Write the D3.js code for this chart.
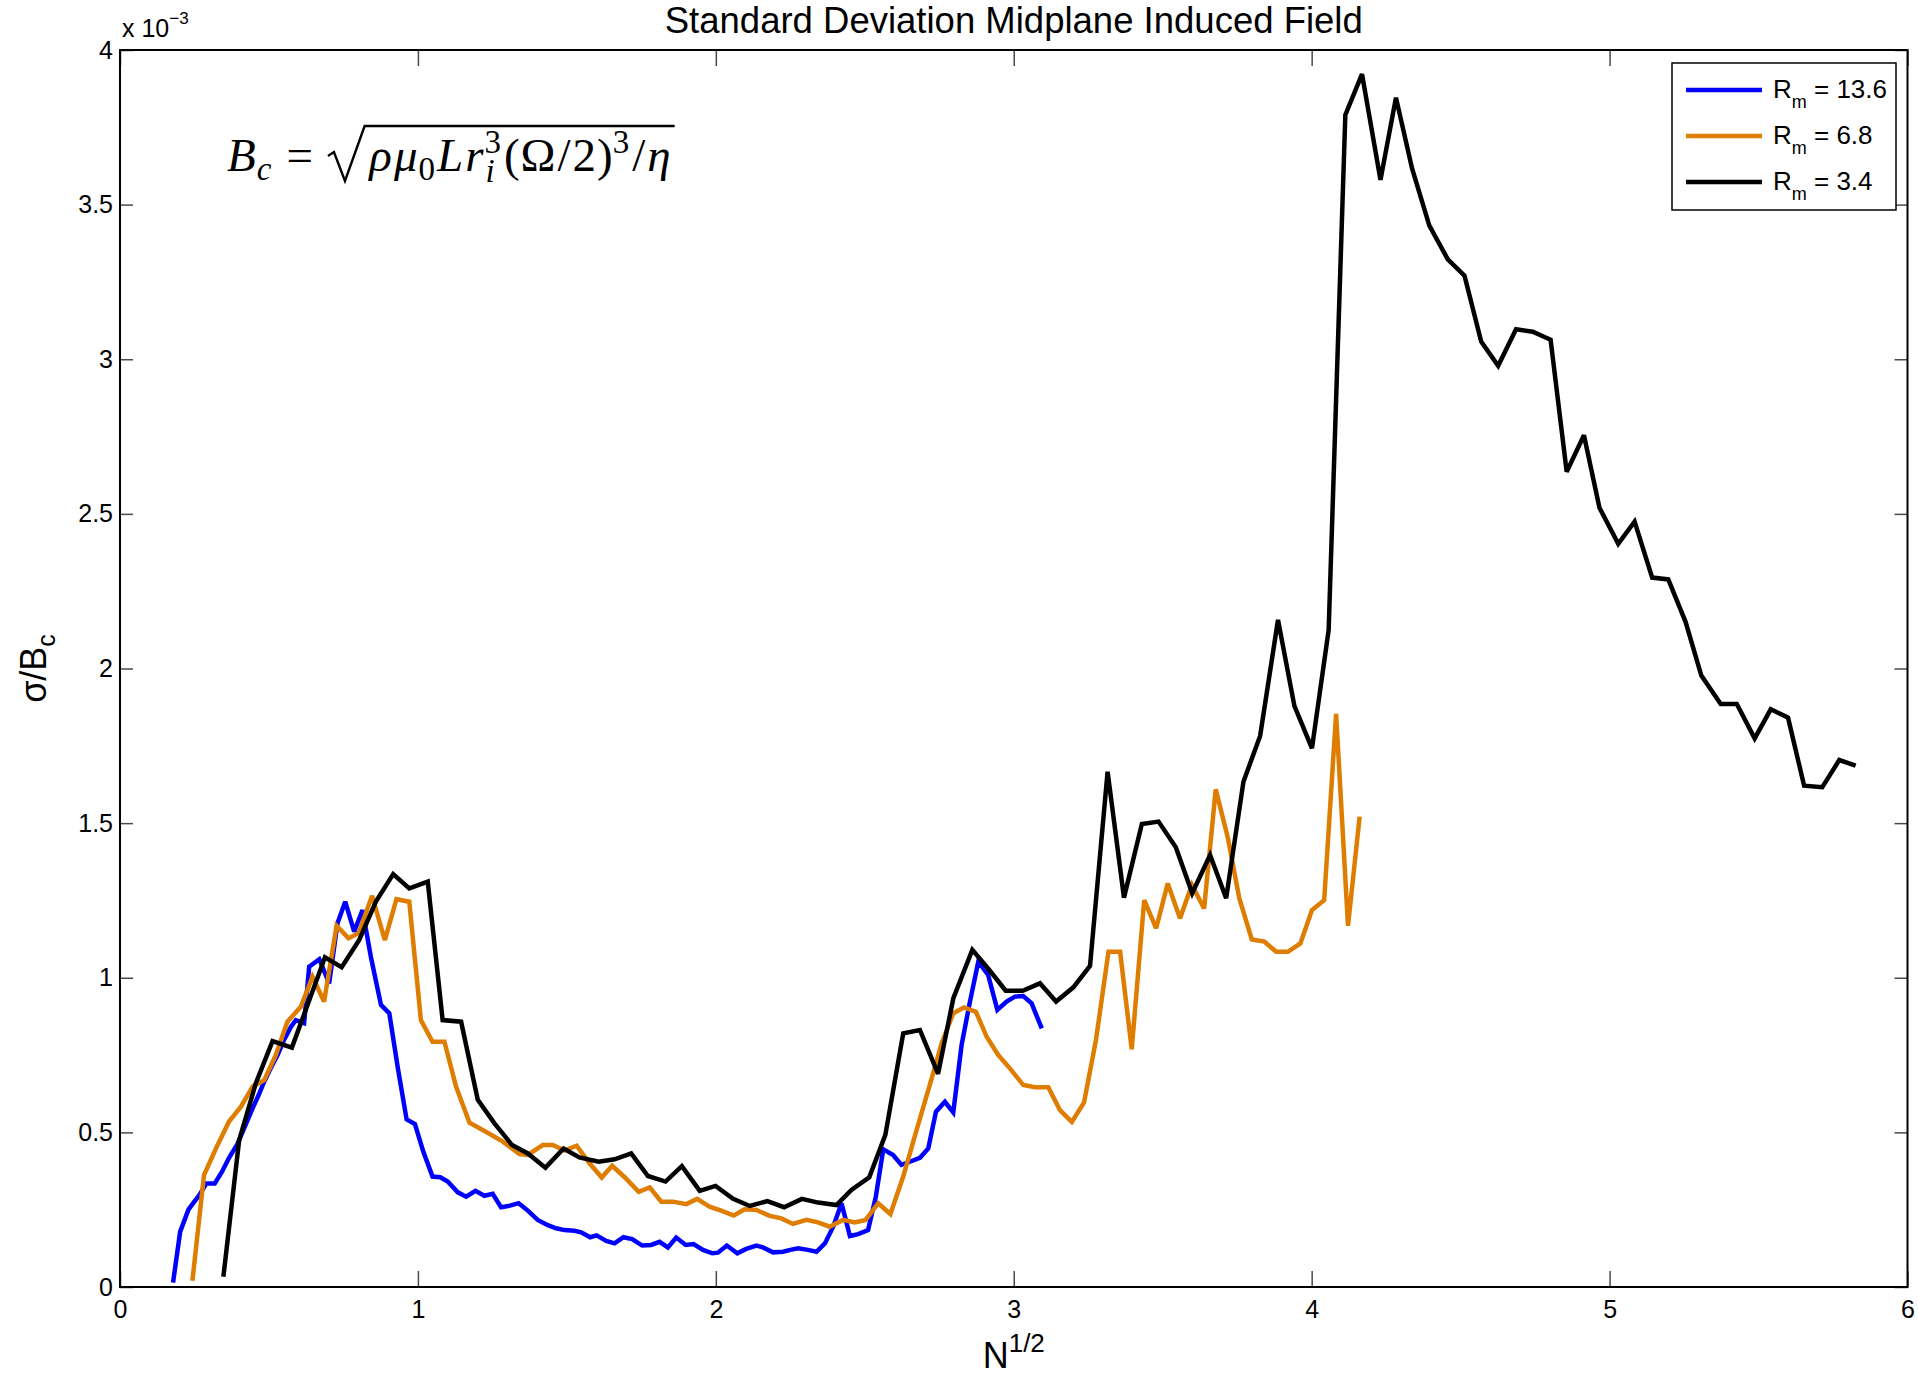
<!DOCTYPE html>
<html>
<head>
<meta charset="utf-8">
<script src="https://d3js.org/d3.v7.min.js"></script>
<style>
  html, body { margin: 0; padding: 0; background: #fff; }
  svg { display: block; }
</style>
</head>
<body>
<script>
// ---------------- DATA (values of sigma/B_c in units of 1e-3) ----------------
const blueX = [0.178,0.202,0.230,0.266,0.290,0.318,0.342,0.366,0.394,0.424,0.445,0.465,0.484,0.507,0.529,0.551,0.574,0.590,0.618,0.635,0.669,0.702,0.730,0.756,0.786,0.814,0.842,0.876,0.904,0.932,0.962,0.990,1.018,1.049,1.075,1.100,1.134,1.162,1.193,1.223,1.251,1.279,1.309,1.338,1.369,1.402,1.436,1.464,1.492,1.526,1.548,1.578,1.600,1.632,1.660,1.690,1.719,1.753,1.783,1.811,1.839,1.867,1.899,1.925,1.957,1.988,2.007,2.037,2.072,2.102,2.136,2.158,2.192,2.226,2.250,2.276,2.309,2.338,2.366,2.394,2.422,2.450,2.478,2.511,2.537,2.562,2.595,2.623,2.651,2.685,2.713,2.739,2.769,2.797,2.825,2.853,2.881,2.914,2.945,2.976,3.004,3.032,3.060,3.094];
const blueY = [0.014,0.179,0.251,0.297,0.335,0.335,0.372,0.418,0.462,0.530,0.578,0.620,0.664,0.710,0.750,0.800,0.842,0.863,0.853,1.036,1.060,0.982,1.176,1.246,1.149,1.219,1.068,0.912,0.885,0.712,0.542,0.527,0.438,0.357,0.355,0.341,0.306,0.292,0.311,0.295,0.301,0.258,0.263,0.271,0.247,0.217,0.200,0.190,0.184,0.182,0.177,0.161,0.167,0.149,0.141,0.161,0.155,0.134,0.136,0.146,0.128,0.160,0.136,0.139,0.120,0.109,0.111,0.134,0.109,0.123,0.134,0.128,0.112,0.114,0.120,0.125,0.120,0.114,0.141,0.195,0.271,0.165,0.171,0.184,0.292,0.445,0.427,0.395,0.405,0.418,0.448,0.567,0.599,0.565,0.783,0.923,1.052,1.009,0.896,0.923,0.939,0.941,0.917,0.836];

const orangeX = [0.243,0.282,0.322,0.366,0.406,0.445,0.484,0.523,0.562,0.607,0.646,0.685,0.727,0.767,0.801,0.846,0.889,0.928,0.971,1.010,1.049,1.089,1.128,1.173,1.213,1.250,1.285,1.341,1.369,1.419,1.453,1.492,1.533,1.576,1.617,1.652,1.694,1.741,1.778,1.817,1.856,1.901,1.937,1.979,2.018,2.060,2.097,2.136,2.181,2.220,2.259,2.304,2.343,2.382,2.427,2.466,2.503,2.545,2.586,2.629,2.674,2.718,2.758,2.797,2.833,2.873,2.909,2.948,2.987,3.032,3.071,3.116,3.155,3.195,3.236,3.276,3.318,3.357,3.396,3.438,3.478,3.517,3.558,3.598,3.639,3.678,3.719,3.757,3.799,3.841,3.881,3.920,3.962,4.001,4.042,4.082,4.122,4.161];
const orangeY = [0.020,0.362,0.448,0.535,0.583,0.648,0.669,0.750,0.858,0.906,1.003,0.923,1.168,1.128,1.144,1.265,1.122,1.254,1.246,0.863,0.793,0.793,0.648,0.531,0.510,0.490,0.470,0.430,0.427,0.459,0.459,0.441,0.457,0.400,0.354,0.392,0.355,0.308,0.322,0.276,0.276,0.268,0.285,0.260,0.247,0.231,0.251,0.249,0.230,0.222,0.204,0.217,0.209,0.195,0.217,0.209,0.217,0.271,0.236,0.357,0.508,0.653,0.788,0.885,0.904,0.890,0.809,0.750,0.707,0.653,0.646,0.646,0.572,0.534,0.597,0.799,1.084,1.084,0.769,1.251,1.160,1.305,1.192,1.300,1.224,1.609,1.451,1.257,1.124,1.117,1.084,1.084,1.111,1.219,1.251,1.853,1.168,1.521];

const blackX = [0.347,0.400,0.456,0.512,0.577,0.688,0.744,0.803,0.859,0.917,0.971,1.033,1.083,1.145,1.201,1.257,1.316,1.369,1.428,1.489,1.542,1.607,1.660,1.716,1.772,1.831,1.886,1.946,1.999,2.058,2.114,2.173,2.229,2.289,2.343,2.405,2.455,2.515,2.569,2.629,2.685,2.746,2.797,2.861,2.918,2.973,3.030,3.088,3.142,3.200,3.256,3.315,3.370,3.430,3.486,3.544,3.599,3.659,3.713,3.771,3.827,3.887,3.942,4.001,4.057,4.113,4.169,4.231,4.283,4.337,4.395,4.457,4.513,4.569,4.626,4.686,4.742,4.802,4.856,4.914,4.966,5.029,5.084,5.143,5.197,5.255,5.308,5.373,5.427,5.487,5.541,5.599,5.653,5.714,5.771,5.826];
const blackY = [0.033,0.475,0.659,0.795,0.774,1.066,1.034,1.122,1.246,1.335,1.289,1.311,0.863,0.858,0.605,0.529,0.459,0.432,0.386,0.448,0.419,0.405,0.413,0.432,0.359,0.341,0.391,0.311,0.327,0.285,0.262,0.278,0.258,0.285,0.273,0.265,0.314,0.355,0.492,0.820,0.831,0.689,0.933,1.090,1.025,0.958,0.958,0.982,0.923,0.969,1.038,1.666,1.259,1.497,1.505,1.422,1.273,1.397,1.257,1.634,1.782,2.157,1.879,1.742,2.124,3.790,3.922,3.580,3.846,3.617,3.432,3.323,3.270,3.057,2.979,3.097,3.089,3.063,2.636,2.754,2.520,2.403,2.475,2.294,2.288,2.151,1.977,1.885,1.885,1.774,1.868,1.841,1.621,1.616,1.704,1.686];

const seriesNames = ["13.6", "6.8", "3.4"];
const seriesColors = ["#0000ff", "#de7d00", "#000000"];

const xTicks = [0,1,2,3,4,5,6];
const xTickLabels = ["0","1","2","3","4","5","6"];
const yTicks = [0,0.5,1,1.5,2,2.5,3,3.5,4];
const yTickLabels = ["0","0.5","1","1.5","2","2.5","3","3.5","4"];

const titleText = "Standard Deviation Midplane Induced Field";

// ---------------- LAYOUT ----------------
const W = 1918, H = 1375;
const L = 120, R = 1907.5, T = 50, B = 1287;
const SANS = "'Liberation Sans', Arial, Helvetica, sans-serif";
const SERIF = "'Liberation Serif', 'Times New Roman', serif";

const svg = d3.select("body").append("svg")
  .attr("width", W).attr("height", H)
  .attr("viewBox", `0 0 ${W} ${H}`);
svg.append("rect").attr("width", W).attr("height", H).attr("fill", "#fff");

const x = d3.scaleLinear().domain([0, 6]).range([L, R]);
const y = d3.scaleLinear().domain([0, 4]).range([B, T]);

const tickColor = "#4a4a4a";
function styleAxis(g, withText) {
  g.select(".domain").remove();
  g.selectAll(".tick line").attr("stroke", tickColor).attr("stroke-width", 1.5);
  g.selectAll(".tick text").attr("fill", "#000").attr("font-family", SANS).attr("font-size", 25);
  if (!withText) g.selectAll(".tick text").remove();
}

svg.append("g").attr("transform", `translate(0,${B})`)
  .call(d3.axisBottom(x).tickValues(xTicks).tickFormat((d, i) => xTickLabels[i])
        .tickSizeInner(-16).tickSizeOuter(0).tickPadding(13))
  .call(g => styleAxis(g, true));
svg.append("g").attr("transform", `translate(0,${T})`)
  .call(d3.axisTop(x).tickValues(xTicks).tickSizeInner(-16).tickSizeOuter(0))
  .call(g => styleAxis(g, false));
svg.append("g").attr("transform", `translate(${L},0)`)
  .call(d3.axisLeft(y).tickValues(yTicks).tickFormat((d, i) => yTickLabels[i])
        .tickSizeInner(-13).tickSizeOuter(0).tickPadding(7))
  .call(g => styleAxis(g, true));
svg.append("g").attr("transform", `translate(${R},0)`)
  .call(d3.axisRight(y).tickValues(yTicks).tickSizeInner(-13).tickSizeOuter(0))
  .call(g => styleAxis(g, false));

// ---------------- LINES ----------------
const line = d3.line().x(d => x(d[0])).y(d => y(d[1]));
const series = [
  d3.zip(blueX, blueY),
  d3.zip(orangeX, orangeY),
  d3.zip(blackX, blackY)
];
series.forEach((s, i) => {
  svg.append("path").datum(s)
    .attr("d", line)
    .attr("fill", "none")
    .attr("stroke", seriesColors[i])
    .attr("stroke-width", 4.5)
    .attr("stroke-linejoin", "miter")
    .attr("stroke-miterlimit", 3);
});

// frame
svg.append("rect").attr("x", L).attr("y", T).attr("width", R - L).attr("height", B - T)
  .attr("fill", "none").attr("stroke", "#000").attr("stroke-width", 2);

// ---------------- TEXTS ----------------
svg.append("text").attr("x", (L + R) / 2).attr("y", 33)
  .attr("text-anchor", "middle").attr("font-family", SANS).attr("font-size", 36.5)
  .text(titleText);

// x 10^-3
const mult = svg.append("text").attr("x", 122).attr("y", 37)
  .attr("font-family", SANS).attr("font-size", 25);
mult.append("tspan").text("x 10");
mult.append("tspan").attr("font-size", 17).attr("dy", -13).text("\u22123");

// x label N^{1/2}
const xl = svg.append("text").attr("x", (L + R) / 2).attr("y", 1368)
  .attr("text-anchor", "middle").attr("font-family", SANS).attr("font-size", 36);
xl.append("tspan").text("N");
xl.append("tspan").attr("font-size", 26).attr("dy", -16).text("1/2");

// y label sigma/B_c
const yl = svg.append("text")
  .attr("transform", `translate(46,${(T + B) / 2}) rotate(-90)`)
  .attr("text-anchor", "middle").attr("font-family", SANS).attr("font-size", 36);
yl.append("tspan").text("\u03c3/B");
yl.append("tspan").attr("font-size", 25).attr("dy", 9).text("c");

// ---------------- FORMULA (one text element, positioned tspans) ----------------
(function formula() {
  const f = 47, s = 33;
  const baseY = 171;
  let cx = 227;
  const g = svg.append("g");
  const txt = g.append("text").attr("font-family", SERIF).attr("font-size", f);
  function piece(t, opts, atX) {
    const o = Object.assign({ size: f, italic: false, shift: 0 }, opts || {});
    const ts = txt.append("tspan").attr("x", atX !== undefined ? atX : cx).attr("y", baseY + o.shift)
      .attr("font-size", o.size)
      .attr("font-style", o.italic ? "italic" : "normal").text(t);
    return ts.node().getComputedTextLength();
  }
  function add(t, opts, extra) { const w = piece(t, opts); cx += w + (extra || 0); return w; }

  add("B", { italic: true }, 1);
  add("c", { italic: true, size: s, shift: 9 });
  cx += 0.32 * f;
  add("=", {});
  cx += 0.32 * f;
  const rx = cx;
  const ovY = 126;
  cx += 0.88 * f;
  add("\u03c1", { italic: true }, 2);
  add("\u03bc", { italic: true }, 1);
  add("0", { size: s, shift: 9 }, 2);
  add("L", { italic: true }, 2);
  add("r", { italic: true }, 1);
  const sx = cx;
  const w3 = piece("3", { size: s, shift: -18 }, sx);
  const wi = piece("i", { italic: true, size: s, shift: 11 }, sx + 1);
  cx = sx + Math.max(w3, wi + 1) + 3;
  add("(", {}, 1);
  add("\u03a9", {}, 2);
  add("/", {}, 2);
  add("2", {}, 1);
  add(")", {});
  add("3", { size: s, shift: -18 }, 3);
  add("/", {}, 2);
  add("\u03b7", { italic: true });
  const endRad = cx + 4;
  g.append("path")
    .attr("d", `M${rx},${baseY - 15} L${rx + 6},${baseY - 19} L${rx + 17},${baseY + 10} L${rx + 0.78 * f},${ovY} L${endRad},${ovY}`)
    .attr("fill", "none").attr("stroke", "#000").attr("stroke-width", 2.4)
    .attr("stroke-linejoin", "miter");
})();

// ---------------- LEGEND ----------------
const lg = svg.append("g");
lg.append("rect").attr("x", 1672).attr("y", 63).attr("width", 224).attr("height", 147)
  .attr("fill", "#fff").attr("stroke", "#000").attr("stroke-width", 1.5);
seriesNames.forEach((name, i) => {
  const ly = 90 + i * 46;
  lg.append("line").attr("x1", 1686).attr("x2", 1762).attr("y1", ly).attr("y2", ly)
    .attr("stroke", seriesColors[i]).attr("stroke-width", 4.5);
  const t = lg.append("text").attr("x", 1773).attr("y", ly + 8)
    .attr("font-family", SANS).attr("font-size", 26);
  t.append("tspan").text("R");
  t.append("tspan").attr("font-size", 18).attr("dy", 10).text("m");
  t.append("tspan").attr("dy", -10).text(" = " + name);
});
</script>
</body>
</html>
